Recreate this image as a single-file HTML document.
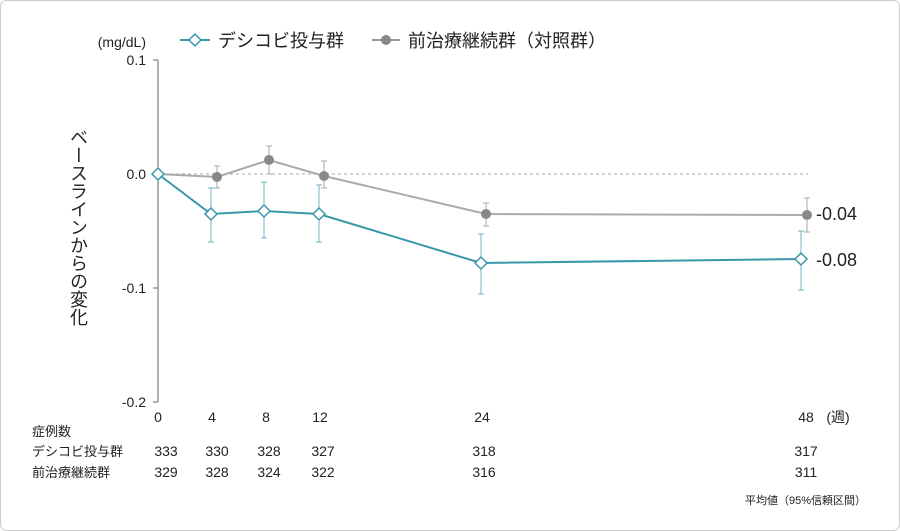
<!DOCTYPE html>
<html><head><meta charset="utf-8"><style>
body{margin:0;background:#fff}
svg{display:block;font-family:"Liberation Sans","Noto Sans CJK JP",sans-serif}
</style></head><body>
<svg width="900" height="531" viewBox="0 0 900 531">
<rect x="0.5" y="0.5" width="899" height="530" rx="6" fill="#fff" stroke="#ccc"/>
<g font-size="14" fill="#222">
<text x="146" y="47" text-anchor="end">(mg/dL)</text>
<text x="146" y="65" text-anchor="end">0.1</text>
<text x="146" y="179" text-anchor="end">0.0</text>
<text x="146" y="293" text-anchor="end">-0.1</text>
<text x="146" y="407" text-anchor="end">-0.2</text>
</g>
<g stroke="#666" stroke-width="1">
<line x1="158" y1="60" x2="158" y2="402"/>
<line x1="153" y1="60" x2="158" y2="60"/>
<line x1="153" y1="174" x2="158" y2="174"/>
<line x1="153" y1="288" x2="158" y2="288"/>
<line x1="153" y1="402" x2="158" y2="402"/>
</g>
<line x1="158" y1="174" x2="808" y2="174" stroke="#aaa" stroke-dasharray="3,3"/>
<text font-size="18" fill="#222" x="78" y="128" style="writing-mode:vertical-rl" letter-spacing="0">ベースラインからの変化</text>
<line x1="180" y1="40" x2="210" y2="40" stroke="#3a97aa" stroke-width="2"/>
<polygon points="195,34 201,40 195,46 189,40" fill="#fff" stroke="#3a97aa" stroke-width="1.5"/>
<text x="218" y="47" font-size="18" fill="#222">デシコビ投与群</text>
<line x1="372" y1="40" x2="400" y2="40" stroke="#999" stroke-width="2"/>
<circle cx="386" cy="40" r="5" fill="#888"/>
<text x="408" y="47" font-size="18" fill="#222">前治療継続群（対照群）</text>
<g stroke="#aaa" stroke-width="1">
<path d="M217,166V188M214,166h6M214,188h6"/>
<path d="M269,146V174M266,146h6M266,174h6"/>
<path d="M324,161V188M321,161h6M321,188h6"/>
<path d="M486,203V226M483,203h6M483,226h6"/>
<path d="M807,198V232M804,198h6M804,232h6"/>
</g>
<g stroke="#6fb3c2" stroke-width="1">
<path d="M211,188V242M208,188h6M208,242h6"/>
<path d="M264,182V238M261,182h6M261,238h6"/>
<path d="M319,185V242M316,185h6M316,242h6"/>
<path d="M481,234V294M478,234h6M478,294h6"/>
<path d="M801,231V290M798,231h6M798,290h6"/>
</g>
<polyline points="158,174 217,177 269,160 324,176 486,214 807,215" fill="none" stroke="#aaa" stroke-width="2"/>
<g fill="#888"><circle cx="217" cy="177" r="5"/><circle cx="269" cy="160" r="5"/><circle cx="324" cy="176" r="5"/><circle cx="486" cy="214" r="5"/><circle cx="807" cy="215" r="5"/></g>
<polyline points="158,174 211,214 264,211 319,214 481,263 801,259" fill="none" stroke="#3a97aa" stroke-width="2"/>
<g fill="#fff" stroke="#3a97aa" stroke-width="1.5">
<polygon points="158,168 164,174 158,180 152,174"/>
<polygon points="211,208 217,214 211,220 205,214"/>
<polygon points="264,205 270,211 264,217 258,211"/>
<polygon points="319,208 325,214 319,220 313,214"/>
<polygon points="481,257 487,263 481,269 475,263"/>
<polygon points="801,253 807,259 801,265 795,259"/>
</g>
<g font-size="18" fill="#222"><text x="816" y="220">-0.04</text><text x="816" y="266">-0.08</text></g>
<g font-size="14" fill="#222" text-anchor="middle">
<text x="158" y="422">0</text><text x="212" y="422">4</text><text x="266" y="422">8</text><text x="320" y="422">12</text><text x="482" y="422">24</text><text x="806" y="422">48</text>
<text x="838" y="422">(週)</text>
<text x="166" y="456">333</text><text x="217" y="456">330</text><text x="269" y="456">328</text><text x="323" y="456">327</text><text x="484" y="456">318</text><text x="806" y="456">317</text>
<text x="166" y="477">329</text><text x="217" y="477">328</text><text x="269" y="477">324</text><text x="323" y="477">322</text><text x="484" y="477">316</text><text x="806" y="477">311</text>
</g>
<g font-size="13" fill="#222">
<text x="32" y="436">症例数</text>
<text x="32" y="456">デシコビ投与群</text>
<text x="32" y="477">前治療継続群</text>
<text x="866" y="504" font-size="11" text-anchor="end">平均値（95%信頼区間）</text>
</g>
</svg>
</body></html>
